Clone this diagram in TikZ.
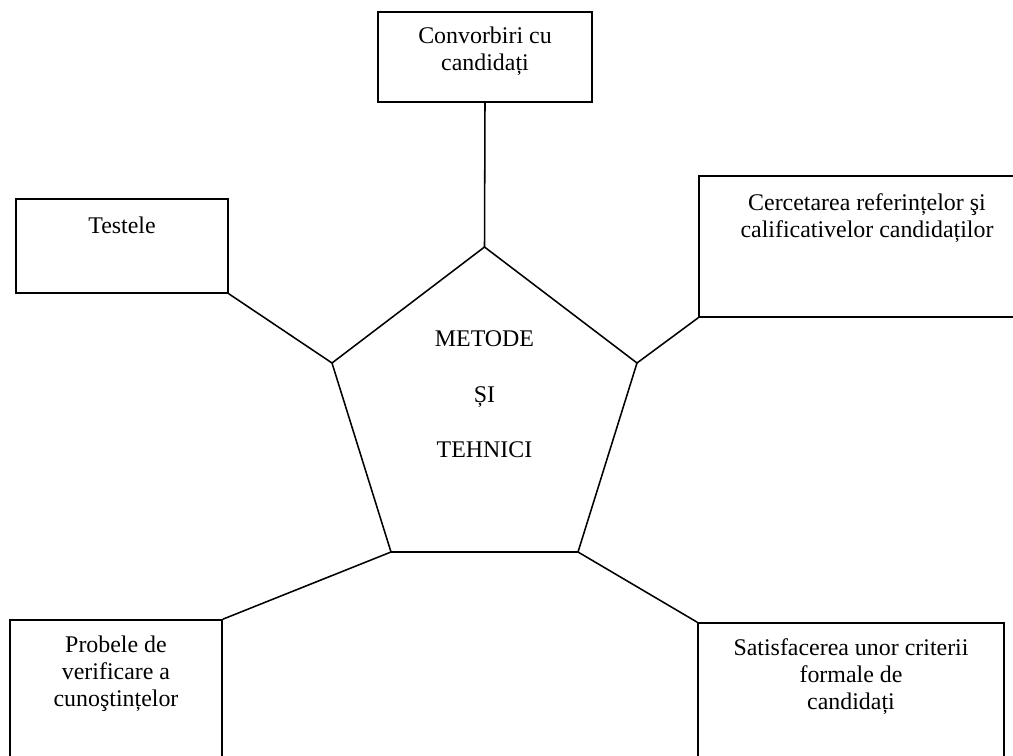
\documentclass[tikz,border=0pt]{standalone}
\usepackage{fontspec}
\setmainfont{Liberation Serif}
\begin{document}
\begin{tikzpicture}[x=0.025cm, y=-0.025cm, line width=1.1pt,
    box/.style={draw, inner sep=0pt},
    txt/.style={anchor=north, align=center, inner sep=0pt, font=\fontsize{17}{19.3}\selectfont}]
        \useasboundingbox (0, 0) rectangle (1013, 756);
        % pentagon corners
        \coordinate (ptop) at (484.5, 247);
        \coordinate (pleft) at (332, 363);
        \coordinate (pright) at (637, 363);
        \coordinate (pbl) at (391, 552);
        \coordinate (pbr) at (578, 552);
        \draw (ptop) -- (pright) -- (pbr) -- (pbl) -- (pleft) -- cycle;
        \node [txt, font=\fontsize{17}{39.5}\selectfont] (centre) at (484.5, 330) {METODE\\ȘI\\TEHNICI};
        % boxes
        \node [box, minimum width=5.35cm, minimum height=2.25cm] (convorbiri) at (485, 57) {};
        \node [box, minimum width=5.3cm, minimum height=2.35cm] (testele) at (122, 246) {};
        \node [box, minimum width=8.025cm, minimum height=3.525cm] (cercetarea) at (859.5, 246.5) {};
        \node [box, minimum width=5.3cm, minimum height=3.75cm] (probele) at (116, 695) {};
        \node [box, minimum width=7.65cm, minimum height=3.675cm] (satisfacerea) at (851, 696.5) {};
        \node [txt] (t1) at (485, 26) {Convorbiri cu\\candidați};
        \node [txt] (t2) at (122, 216) {Testele};
        \node [txt] (t3) at (867, 193) {Cercetarea referințelor şi\\calificativelor candidaților};
        \node [txt] (t4) at (116, 635) {Probele de\\verificare a\\cunoştințelor};
        \node [txt] (t5) at (851, 638) {Satisfacerea unor criterii\\formale de\\candidați};
        % links to the pentagon
        \draw (convorbiri.south) -- (ptop);
        \draw (testele.south east) -- (pleft);
        \draw (cercetarea.south west) -- (pright);
        \draw (probele.north east) -- (pbl);
        \draw (satisfacerea.north west) -- (pbr);
\end{tikzpicture}
\end{document}
